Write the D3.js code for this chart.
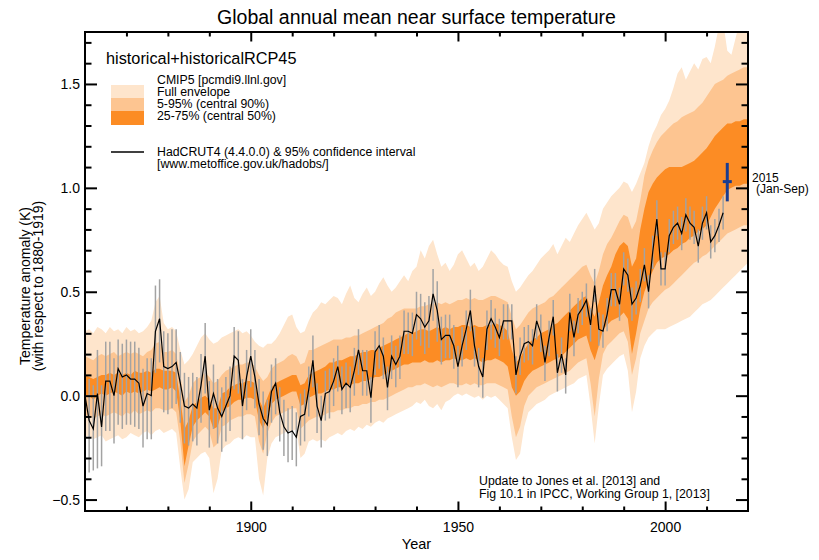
<!DOCTYPE html>
<html><head><meta charset="utf-8">
<script src="https://cdn.jsdelivr.net/npm/d3@7"></script>
<style>
body{margin:0;background:#fff}
svg{font-family:"Liberation Sans",Arial,Helvetica,sans-serif;display:block}
</style>
</head><body>
<svg id="chart" width="819" height="560"></svg>
<script>
// ---------------- DATA ----------------
const bandStartYear = 1860;   // CMIP5 bands, one value per year 1860..2020
const envLow = [
-0.20,-0.19,-0.21,-0.20,-0.19,-0.22,-0.21,-0.20,-0.19,-0.21,
-0.20,-0.18,-0.19,-0.20,-0.18,-0.17,-0.19,-0.17,-0.16,-0.18,
-0.17,-0.16,-0.18,-0.35,-0.50,-0.45,-0.32,-0.30,-0.28,-0.27,
-0.30,-0.47,-0.40,-0.26,-0.24,-0.23,-0.21,-0.20,-0.21,-0.19,
-0.20,-0.20,-0.40,-0.48,-0.30,-0.23,-0.20,-0.19,-0.18,-0.17,
-0.17,-0.16,-0.30,-0.28,-0.22,-0.21,-0.22,-0.21,-0.22,-0.20,
-0.19,-0.18,-0.19,-0.17,-0.16,-0.17,-0.15,-0.16,-0.14,-0.15,
-0.13,-0.12,-0.13,-0.11,-0.10,-0.09,-0.08,-0.07,-0.06,-0.05,
-0.03,-0.04,-0.02,-0.05,-0.06,-0.04,-0.07,-0.03,-0.02,0.00,
0.01,0.00,0.01,0.00,-0.01,0.00,-0.02,0.00,-0.01,0.00,
-0.02,-0.04,-0.06,-0.20,-0.31,-0.28,-0.15,-0.08,-0.06,-0.04,
-0.03,-0.02,0.00,0.01,0.02,0.03,0.04,0.05,0.06,0.08,
0.09,0.10,-0.05,-0.23,-0.05,0.10,0.13,0.15,0.17,0.19,
0.20,0.12,-0.08,0.02,0.18,0.24,0.28,0.30,0.32,0.32,
0.32,0.33,0.34,0.35,0.36,0.37,0.38,0.40,0.42,0.44,
0.45,0.46,0.48,0.50,0.52,0.54,0.56,0.58,0.60,0.62,0.64];
const p05 = [
-0.10,-0.09,-0.11,-0.10,-0.09,-0.10,-0.09,-0.08,-0.09,-0.10,
-0.08,-0.09,-0.07,-0.09,-0.08,-0.07,-0.08,-0.06,-0.06,-0.07,
-0.07,-0.06,-0.08,-0.22,-0.42,-0.33,-0.22,-0.19,-0.17,-0.15,
-0.17,-0.25,-0.23,-0.15,-0.14,-0.12,-0.11,-0.10,-0.10,-0.09,
-0.09,-0.10,-0.22,-0.28,-0.18,-0.13,-0.10,-0.09,-0.08,-0.07,
-0.06,-0.06,-0.16,-0.14,-0.12,-0.11,-0.10,-0.10,-0.09,-0.08,
-0.08,-0.07,-0.07,-0.06,-0.06,-0.05,-0.05,-0.04,-0.04,-0.03,
-0.03,-0.02,-0.02,-0.01,0.00,0.01,0.02,0.03,0.04,0.04,
0.05,0.05,0.06,0.05,0.04,0.05,0.04,0.05,0.06,0.06,
0.05,0.05,0.06,0.05,0.06,0.05,0.05,0.06,0.06,0.06,
0.05,0.04,0.03,-0.10,-0.20,-0.15,-0.05,0.00,0.02,0.04,
0.05,0.06,0.07,0.08,0.09,0.10,0.11,0.12,0.14,0.16,
0.17,0.18,0.06,-0.10,0.08,0.20,0.24,0.26,0.28,0.30,
0.31,0.26,0.10,0.18,0.30,0.36,0.42,0.45,0.47,0.49,
0.51,0.52,0.54,0.56,0.58,0.60,0.62,0.64,0.65,0.67,
0.68,0.70,0.72,0.74,0.76,0.78,0.79,0.80,0.81,0.82,0.82];
const p25 = [
-0.01,0.00,-0.02,0.00,0.01,0.00,0.01,0.02,0.01,0.00,
0.02,0.01,0.02,0.01,0.02,0.03,0.02,0.03,0.04,0.03,
0.03,0.04,0.02,-0.12,-0.34,-0.24,-0.15,-0.12,-0.10,-0.08,
-0.10,-0.16,-0.15,-0.08,-0.06,-0.05,-0.03,-0.02,-0.02,-0.01,
-0.01,-0.02,-0.12,-0.16,-0.10,-0.04,-0.02,-0.01,0.00,0.01,
0.02,0.02,-0.05,-0.04,-0.01,0.00,0.01,0.01,0.02,0.03,
0.03,0.04,0.04,0.05,0.05,0.06,0.06,0.07,0.07,0.08,
0.09,0.09,0.10,0.11,0.12,0.13,0.14,0.15,0.15,0.16,
0.16,0.16,0.17,0.16,0.16,0.17,0.16,0.17,0.17,0.18,
0.17,0.17,0.18,0.17,0.18,0.17,0.16,0.17,0.17,0.18,
0.17,0.16,0.14,0.04,0.00,0.02,0.07,0.10,0.12,0.13,
0.14,0.15,0.16,0.17,0.18,0.19,0.21,0.23,0.25,0.27,
0.28,0.29,0.22,0.17,0.24,0.32,0.34,0.36,0.37,0.38,
0.40,0.37,0.20,0.30,0.42,0.50,0.55,0.60,0.64,0.66,
0.67,0.68,0.70,0.71,0.73,0.74,0.76,0.77,0.79,0.80,
0.82,0.86,0.90,0.93,0.96,0.99,1.00,1.01,1.01,1.02,1.02];
const p75 = [
0.10,0.09,0.08,0.09,0.10,0.10,0.11,0.10,0.11,0.10,
0.11,0.10,0.12,0.11,0.11,0.12,0.11,0.13,0.13,0.12,
0.12,0.12,0.11,-0.02,-0.16,-0.12,-0.05,-0.03,-0.01,0.00,
-0.02,-0.06,-0.06,0.01,0.02,0.04,0.05,0.06,0.06,0.07,
0.07,0.06,-0.02,-0.06,-0.01,0.04,0.06,0.07,0.08,0.09,
0.10,0.10,0.05,0.06,0.10,0.11,0.12,0.13,0.14,0.16,
0.16,0.17,0.17,0.18,0.19,0.19,0.20,0.21,0.21,0.22,
0.22,0.23,0.24,0.25,0.26,0.27,0.28,0.29,0.30,0.30,
0.31,0.32,0.32,0.31,0.32,0.33,0.32,0.33,0.32,0.33,
0.33,0.34,0.34,0.33,0.34,0.33,0.33,0.34,0.34,0.35,
0.34,0.33,0.31,0.22,0.16,0.18,0.22,0.25,0.27,0.28,
0.30,0.31,0.32,0.34,0.35,0.37,0.39,0.41,0.43,0.45,
0.47,0.48,0.42,0.38,0.45,0.53,0.58,0.62,0.68,0.72,
0.74,0.72,0.62,0.66,0.80,0.90,0.98,1.02,1.05,1.07,
1.09,1.10,1.10,1.10,1.10,1.11,1.12,1.13,1.15,1.17,
1.19,1.22,1.25,1.27,1.29,1.31,1.31,1.32,1.32,1.33,1.33];
const p95 = [
0.19,0.18,0.17,0.19,0.20,0.19,0.20,0.21,0.19,0.20,
0.21,0.20,0.21,0.20,0.19,0.21,0.22,0.25,0.26,0.21,
0.21,0.22,0.20,0.10,-0.03,0.00,0.06,0.08,0.09,0.11,
0.09,0.06,0.07,0.10,0.12,0.13,0.14,0.15,0.15,0.16,
0.16,0.14,0.10,0.07,0.09,0.13,0.15,0.16,0.17,0.19,
0.20,0.19,0.15,0.16,0.22,0.22,0.23,0.24,0.25,0.26,
0.27,0.27,0.27,0.28,0.28,0.29,0.29,0.30,0.31,0.32,
0.33,0.34,0.35,0.37,0.38,0.40,0.41,0.42,0.42,0.42,
0.42,0.43,0.43,0.44,0.44,0.45,0.44,0.45,0.44,0.45,
0.46,0.46,0.47,0.46,0.47,0.46,0.46,0.47,0.48,0.48,
0.47,0.46,0.45,0.38,0.32,0.34,0.37,0.40,0.42,0.43,
0.44,0.45,0.47,0.48,0.50,0.52,0.54,0.56,0.58,0.60,
0.62,0.63,0.58,0.54,0.60,0.68,0.73,0.76,0.80,0.84,
0.87,0.86,0.80,0.84,0.94,1.06,1.13,1.18,1.22,1.25,
1.27,1.29,1.31,1.32,1.34,1.35,1.36,1.37,1.39,1.41,
1.44,1.47,1.50,1.51,1.52,1.54,1.55,1.56,1.57,1.58,1.58];
const envHigh = [
0.31,0.32,0.30,0.33,0.32,0.30,0.33,0.31,0.32,0.30,
0.33,0.31,0.32,0.30,0.31,0.33,0.36,0.45,0.48,0.35,
0.32,0.33,0.31,0.22,0.15,0.17,0.20,0.24,0.28,0.30,
0.27,0.25,0.26,0.28,0.29,0.30,0.31,0.32,0.30,0.31,
0.29,0.26,0.24,0.23,0.25,0.25,0.27,0.30,0.34,0.38,
0.39,0.33,0.30,0.31,0.36,0.40,0.42,0.45,0.44,0.46,
0.48,0.47,0.44,0.49,0.53,0.47,0.45,0.49,0.52,0.48,
0.50,0.54,0.57,0.53,0.50,0.52,0.55,0.58,0.55,0.60,
0.62,0.70,0.66,0.72,0.75,0.68,0.62,0.64,0.60,0.63,
0.68,0.70,0.66,0.62,0.64,0.60,0.62,0.66,0.70,0.68,
0.65,0.63,0.62,0.55,0.50,0.52,0.55,0.58,0.60,0.63,
0.66,0.68,0.70,0.73,0.68,0.72,0.76,0.74,0.78,0.82,
0.85,0.88,0.84,0.80,0.83,0.90,0.93,0.96,0.98,1.00,
1.03,1.02,0.98,1.02,1.07,1.12,1.20,1.26,1.30,1.35,
1.38,1.42,1.48,1.55,1.58,1.52,1.56,1.60,1.57,1.62,
1.63,1.60,1.68,1.78,1.80,1.66,1.64,1.72,1.80,1.85,1.85];

const obsStartYear = 1860;   // HadCRUT4 annual anomaly, 1860..2014
const obsValue = [
0.00,-0.12,-0.16,0.01,-0.15,0.07,0.07,0.00,0.13,0.09,
0.10,0.08,0.08,0.06,-0.05,0.01,0.00,0.31,0.37,0.14,
0.13,0.14,0.16,0.06,-0.05,-0.06,-0.04,-0.06,0.05,0.19,
-0.07,0.01,-0.06,-0.10,-0.05,0.00,0.19,0.17,-0.05,0.09,
0.19,0.09,-0.04,-0.11,-0.14,0.02,0.06,-0.08,-0.15,-0.18,
-0.17,-0.20,-0.10,-0.09,0.03,0.17,-0.05,-0.12,0.01,0.02,
0.07,0.14,0.03,0.06,0.04,0.12,0.22,0.12,0.12,-0.01,
0.21,0.24,0.19,0.04,0.19,0.15,0.19,0.31,0.31,0.30,
0.39,0.37,0.33,0.36,0.49,0.41,0.27,0.29,0.29,0.24,
0.14,0.24,0.32,0.41,0.24,0.14,0.09,0.32,0.37,0.33,
0.28,0.36,0.36,0.36,0.10,0.19,0.25,0.26,0.24,0.36,
0.30,0.16,0.28,0.38,0.11,0.20,0.10,0.40,0.28,0.39,
0.42,0.46,0.34,0.53,0.32,0.31,0.39,0.51,0.51,0.44,
0.61,0.58,0.44,0.47,0.53,0.63,0.50,0.69,0.85,0.61,
0.61,0.77,0.81,0.83,0.78,0.87,0.83,0.81,0.72,0.83,
0.88,0.74,0.77,0.82,0.88];
const obsErrUp = [
0.19,0.20,0.21,0.21,0.20,0.19,0.19,0.18,0.14,0.16,
0.17,0.18,0.18,0.17,0.18,0.17,0.18,0.22,0.19,0.17,
0.17,0.18,0.16,0.15,0.16,0.15,0.15,0.15,0.15,0.16,
0.14,0.14,0.14,0.14,0.14,0.14,0.14,0.14,0.13,0.13,
0.13,0.13,0.12,0.13,0.12,0.13,0.12,0.12,0.13,0.12,
0.12,0.12,0.11,0.12,0.11,0.12,0.11,0.12,0.11,0.11,
0.11,0.10,0.11,0.10,0.10,0.11,0.10,0.10,0.10,0.10,
0.10,0.10,0.09,0.10,0.10,0.09,0.10,0.10,0.09,0.10,
0.11,0.12,0.12,0.12,0.12,0.14,0.11,0.10,0.10,0.10,
0.10,0.09,0.09,0.10,0.09,0.09,0.09,0.09,0.09,0.09,
0.09,0.08,0.08,0.08,0.09,0.09,0.08,0.08,0.08,0.08,
0.09,0.08,0.08,0.08,0.09,0.08,0.08,0.09,0.08,0.08,
0.08,0.08,0.08,0.08,0.08,0.08,0.08,0.08,0.08,0.08,
0.08,0.08,0.08,0.08,0.08,0.08,0.08,0.08,0.09,0.08,
0.08,0.08,0.08,0.08,0.08,0.08,0.08,0.08,0.08,0.08,
0.08,0.08,0.08,0.08,0.08];
const obsErrDown = [
0.25,0.25,0.20,0.36,0.19,0.24,0.24,0.23,0.27,0.25,
0.24,0.22,0.23,0.22,0.20,0.22,0.21,0.20,0.21,0.22,
0.22,0.20,0.20,0.19,0.18,0.18,0.18,0.18,0.18,0.18,
0.18,0.17,0.17,0.17,0.17,0.17,0.16,0.16,0.16,0.16,
0.15,0.15,0.15,0.15,0.15,0.15,0.15,0.14,0.14,0.14,
0.14,0.14,0.14,0.13,0.13,0.13,0.13,0.13,0.13,0.13,
0.12,0.12,0.12,0.12,0.12,0.12,0.12,0.12,0.12,0.12,
0.11,0.11,0.11,0.11,0.11,0.11,0.11,0.11,0.11,0.11,
0.12,0.13,0.13,0.13,0.13,0.15,0.12,0.11,0.11,0.11,
0.10,0.10,0.10,0.10,0.10,0.10,0.10,0.10,0.10,0.10,
0.09,0.09,0.09,0.09,0.09,0.09,0.09,0.09,0.09,0.09,
0.09,0.09,0.09,0.09,0.09,0.09,0.09,0.09,0.09,0.09,
0.08,0.08,0.08,0.08,0.08,0.08,0.08,0.08,0.08,0.08,
0.08,0.08,0.08,0.08,0.08,0.08,0.08,0.08,0.08,0.08,
0.08,0.08,0.08,0.08,0.08,0.08,0.08,0.08,0.08,0.08,
0.08,0.08,0.08,0.08,0.08];

const partialYear = [2015];
const partialValue = [1.03];
const partialLow = [0.935];
const partialHigh = [1.12];

const xMajorTicks = [1900, 1950, 2000];
const xMinorTicks = [1870, 1880, 1890, 1910, 1920, 1930, 1940, 1960, 1970, 1980, 1990, 2010];
const yMajorTicks = [-0.5, 0.0, 0.5, 1.0, 1.5];
const yMinorTicks = [-0.4,-0.3,-0.2,-0.1,0.1,0.2,0.3,0.4,0.6,0.7,0.8,0.9,1.1,1.2,1.3,1.4,1.6,1.7];

const colEnv = "#fee5cc", colP90 = "#fdc591", colP50 = "#fc8c24";

// ---------------- DRAW ----------------
const svg = d3.select("#chart");
const L = 85, R = 748, T = 32, B = 511;
const x = d3.scaleLinear().domain([1860, 2020]).range([L, R]);
const y = d3.scaleLinear().domain([-0.555, 1.75]).range([B, T]);

svg.append("defs").append("clipPath").attr("id", "plotclip")
  .append("rect").attr("x", L).attr("y", T).attr("width", R - L).attr("height", B - T);

const bands = envLow.map((v, i) => ({
  year: bandStartYear + i, envLo: v, envHi: envHigh[i],
  lo5: p05[i], hi95: p95[i], lo25: p25[i], hi75: p75[i]
}));
const g = svg.append("g").attr("clip-path", "url(#plotclip)");
const area = (lo, hi) => d3.area().x(d => x(d.year)).y0(d => y(d[lo])).y1(d => y(d[hi]));
g.append("path").datum(bands).attr("d", area("envLo", "envHi")).attr("fill", colEnv);
g.append("path").datum(bands).attr("d", area("lo5", "hi95")).attr("fill", colP90);
g.append("path").datum(bands).attr("d", area("lo25", "hi75")).attr("fill", colP50);

const obs = obsValue.map((v, i) => ({
  year: obsStartYear + i, v, lo: v - obsErrDown[i], hi: v + obsErrUp[i]
}));
g.append("g").selectAll("line").data(obs).join("line")
  .attr("x1", d => x(d.year)).attr("x2", d => x(d.year))
  .attr("y1", d => y(d.lo)).attr("y2", d => y(d.hi))
  .attr("stroke", "#a3a3a3").attr("stroke-width", 1.5);
g.append("path").datum(obs)
  .attr("d", d3.line().x(d => x(d.year)).y(d => y(d.v)))
  .attr("fill", "none").attr("stroke", "#000").attr("stroke-width", 1.2);

// 2015 partial year
const part = partialYear.map((yr, i) => ({ year: yr, v: partialValue[i], lo: partialLow[i], hi: partialHigh[i] }));
const pg = svg.append("g");
pg.selectAll(".pv").data(part).join("line")
  .attr("x1", d => x(d.year)).attr("x2", d => x(d.year))
  .attr("y1", d => y(d.lo)).attr("y2", d => y(d.hi))
  .attr("stroke", "#1b3d8f").attr("stroke-width", 3);
pg.selectAll(".ph").data(part).join("line")
  .attr("x1", d => x(d.year) - 4.5).attr("x2", d => x(d.year) + 4.5)
  .attr("y1", d => y(d.v)).attr("y2", d => y(d.v))
  .attr("stroke", "#1b3d8f").attr("stroke-width", 3);
pg.selectAll(".pt").data(part).join("text")
  .attr("x", 752).attr("y", d => y(d.v)).attr("font-size", 12).text(d => d.year);
pg.selectAll(".pt2").data(part).join("text")
  .attr("x", 756).attr("y", d => y(d.v) + 11.5).attr("font-size", 12).text("(Jan-Sep)");

// axes
function styleAxis(sel, w) {
  sel.select(".domain").remove();
  sel.selectAll(".tick line").attr("stroke", "#000").attr("stroke-width", w);
  sel.selectAll(".tick text").attr("fill", "#000");
}
const fs = 14;
svg.append("g").attr("transform", `translate(${L},0)`)
  .call(d3.axisLeft(y).tickValues(yMajorTicks).tickSize(-12).tickPadding(5).tickFormat(d3.format(".1f")))
  .call(s => styleAxis(s, 2)).call(s => s.selectAll("text").attr("font-size", fs).attr("font-family", "Liberation Sans, Arial, sans-serif"));
svg.append("g").attr("transform", `translate(${L},0)`)
  .call(d3.axisLeft(y).tickValues(yMinorTicks).tickSize(-6.5).tickFormat(""))
  .call(s => styleAxis(s, 2));
svg.append("g").attr("transform", `translate(${R},0)`)
  .call(d3.axisRight(y).tickValues(yMajorTicks).tickSize(-12).tickFormat(""))
  .call(s => styleAxis(s, 2));
svg.append("g").attr("transform", `translate(${R},0)`)
  .call(d3.axisRight(y).tickValues(yMinorTicks).tickSize(-6.5).tickFormat(""))
  .call(s => styleAxis(s, 2));
svg.append("g").attr("transform", `translate(0,${B})`)
  .call(d3.axisBottom(x).tickValues(xMajorTicks).tickSize(-9.5).tickPadding(11).tickFormat(d3.format("d")))
  .call(s => styleAxis(s, 2)).call(s => s.selectAll("text").attr("font-size", fs).attr("font-family", "Liberation Sans, Arial, sans-serif"));
svg.append("g").attr("transform", `translate(0,${B})`)
  .call(d3.axisBottom(x).tickValues(xMinorTicks).tickSize(-4.5).tickFormat(""))
  .call(s => styleAxis(s, 2));
svg.append("g").attr("transform", `translate(0,${T})`)
  .call(d3.axisTop(x).tickValues(xMajorTicks).tickSize(-9.5).tickFormat(""))
  .call(s => styleAxis(s, 2));
svg.append("g").attr("transform", `translate(0,${T})`)
  .call(d3.axisTop(x).tickValues(xMinorTicks).tickSize(-4.5).tickFormat(""))
  .call(s => styleAxis(s, 2));
svg.append("rect").attr("x", L).attr("y", T).attr("width", R - L).attr("height", B - T)
  .attr("fill", "none").attr("stroke", "#000").attr("stroke-width", 2);

// titles
svg.append("text").attr("x", (L + R) / 2).attr("y", 24).attr("text-anchor", "middle")
  .attr("font-size", 19.5).text("Global annual mean near surface temperature");
svg.append("text").attr("x", (L + R) / 2).attr("y", 549).attr("text-anchor", "middle")
  .attr("font-size", 14.5).text("Year");
svg.append("text").attr("transform", "translate(30,286) rotate(-90)")
  .attr("text-anchor", "middle").attr("font-size", 14).text("Temperature anomaly (K)");
svg.append("text").attr("transform", "translate(43,286) rotate(-90)")
  .attr("text-anchor", "middle").attr("font-size", 14).text("(with respect to 1880-1919)");

// legend
svg.append("text").attr("x", 106).attr("y", 64).attr("font-size", 16.3).text("historical+historicalRCP45");
const legSw = [
  { c: colEnv, y0: 85, y1: 98 },
  { c: colP90, y0: 98, y1: 111 },
  { c: colP50, y0: 111, y1: 125 }
];
svg.append("g").selectAll("rect").data(legSw).join("rect")
  .attr("x", 111).attr("width", 33).attr("y", d => d.y0).attr("height", d => d.y1 - d.y0).attr("fill", d => d.c);
const legTxt = [
  { t: "CMIP5 [pcmdi9.llnl.gov]", y: 84 },
  { t: "Full envelope", y: 96 },
  { t: "5-95% (central 90%)", y: 108 },
  { t: "25-75% (central 50%)", y: 120 },
  { t: "HadCRUT4 (4.4.0.0) & 95% confidence interval", y: 155.5 },
  { t: "[www.metoffice.gov.uk/hadobs/]", y: 167.5 }
];
svg.append("g").selectAll("text").data(legTxt).join("text")
  .attr("x", 157).attr("y", d => d.y).attr("font-size", 12.3).text(d => d.t);
svg.append("line").attr("x1", 111).attr("x2", 144).attr("y1", 152).attr("y2", 152)
  .attr("stroke", "#000").attr("stroke-width", 1.4);

// credit
svg.append("text").attr("x", 479).attr("y", 485).attr("font-size", 12.3).text("Update to Jones et al. [2013] and");
svg.append("text").attr("x", 479).attr("y", 497.5).attr("font-size", 12.3).text("Fig 10.1 in IPCC, Working Group 1, [2013]");
</script>
</body></html>
